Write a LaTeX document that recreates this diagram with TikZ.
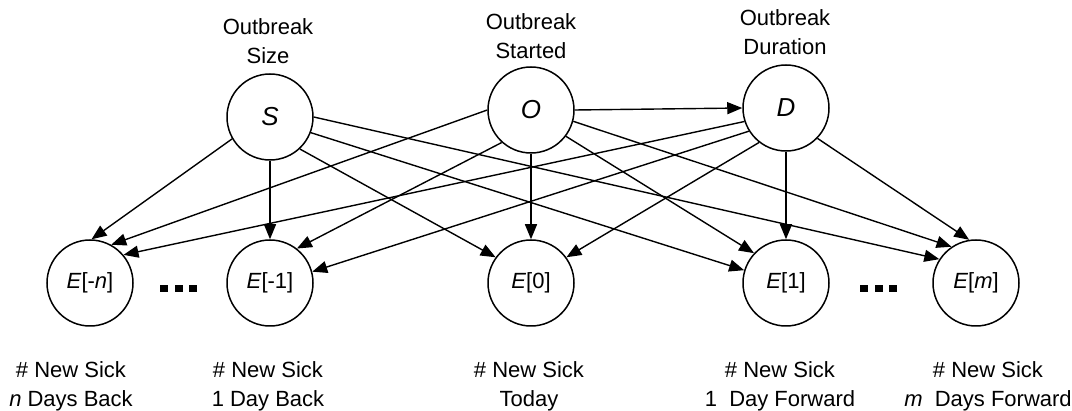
\documentclass[tikz,border=0pt]{standalone}
\usepackage{fontspec}
\setmainfont{Liberation Sans}
\usetikzlibrary{arrows.meta}

\begin{document}
\begin{tikzpicture}[x=1pt,y=-1pt,
  var/.style={circle,draw,line width=1.5pt,minimum size=86pt,inner sep=0pt,font=\fontsize{26}{30}\selectfont},
  obs/.style={circle,draw,line width=1.5pt,minimum size=86pt,inner sep=0pt,font=\fontsize{22}{26}\selectfont},
  lbl/.style={align=center,font=\fontsize{22}{29}\selectfont},
  dep/.style={line width=1.4pt,-{Triangle[length=15pt,width=12pt]}}]
  \useasboundingbox (0,0) rectangle (1072,411);
  % hidden causes
  \node[var] (S) at (270,117) {\textit{S}};
  \node[var] (O) at (531,110) {\textit{O}};
  \node[var] (D) at (786,108) {\textit{D}};
  \node[lbl] (tS) at (268,41) {Outbreak\\Size};
  \node[lbl] (tO) at (531,36) {Outbreak\\Started};
  \node[lbl] (tD) at (785,32) {Outbreak\\Duration};
  % daily counts
  \node[obs] (En) at (90,283) {\textit{E}[-\textit{n}]};
  \node[obs] (Em1) at (270,283) {\textit{E}[-1]};
  \node[obs] (E0) at (531,283) {\textit{E}[0]};
  \node[obs] (E1) at (786,283) {\textit{E}[1]};
  \node[obs] (Em) at (976,283) {\textit{E}[\textit{m}]};
  \node[lbl] (bn) at (71,386) {\# New Sick\\\textit{n} Days Back};
  \node[lbl] (bm1) at (268,386) {\# New Sick\\1 Day Back};
  \node[lbl] (b0) at (529,386) {\# New Sick\\Today};
  \node[lbl] (b1) at (780,386) {\# New Sick\\1\ \ Day Forward};
  \node[lbl] (bm) at (988,386) {\# New Sick\\\textit{m}\ \ Days Forward};
  \foreach \x in {164,179,193,864,879,893}
    \fill (\x-4,285) rectangle (\x+4,292);
  % dependencies
  \foreach \a/\b in {S.210/En.88,S.south/Em1.north,S.313/E0.144,S.339/E1.163,S.0/Em.147,
                     O.east/D.west,O.180/En.61,O.228/Em1.52,O.south/E0.north,O.323/E1.137,O.345/Em.124,
                     D.198/En.40,D.212/Em1.15,D.232/E0.36,D.south/E1.north,D.316/Em.99}
    \draw[dep] (\a) -- (\b);
\end{tikzpicture}
\end{document}
